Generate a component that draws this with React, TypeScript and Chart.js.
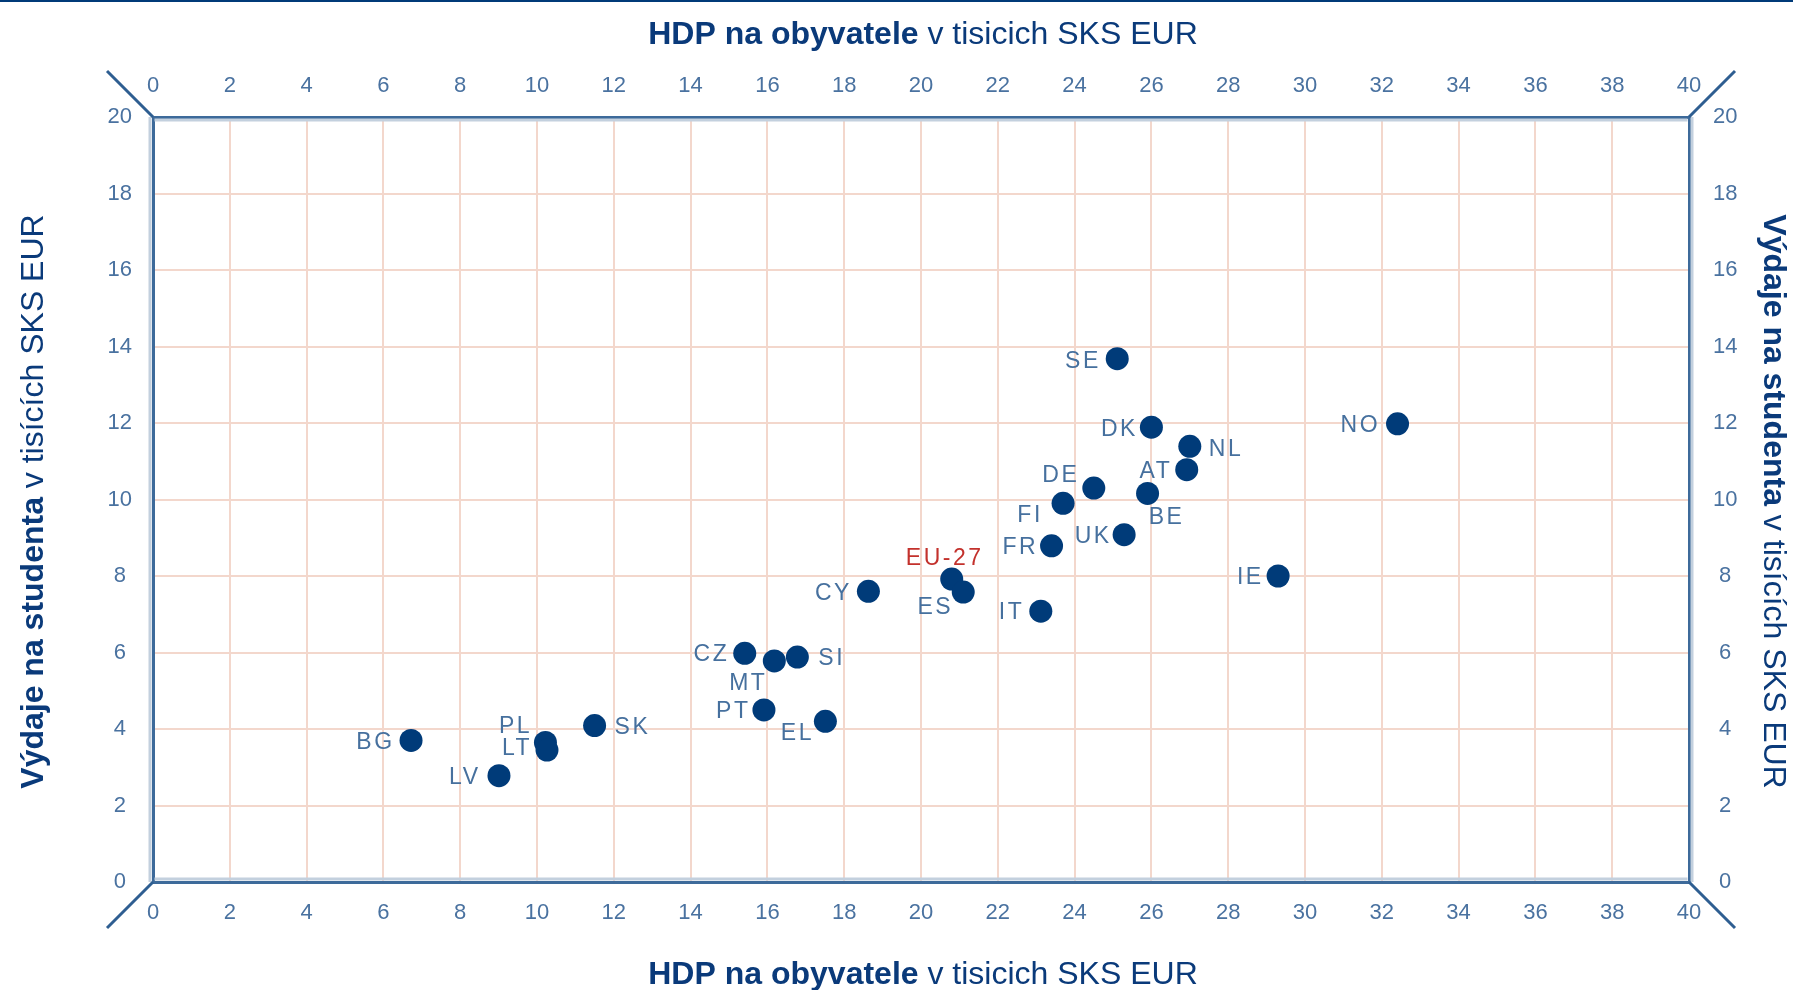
import { useEffect, useRef } from 'react';
import { Chart, registerables } from 'chart.js';

Chart.register(...registerables);

// ---- data ----
const countries = ['BG', 'LV', 'PL', 'LT', 'SK', 'CZ', 'MT', 'SI', 'PT', 'EL', 'CY', 'EU-27', 'ES', 'IT', 'FR', 'FI', 'DE', 'UK', 'SE', 'DK', 'BE', 'AT', 'NL', 'IE', 'NO'];
const gdpPerCapita = [6.72, 9.01, 10.22, 10.26, 11.5, 15.41, 16.18, 16.78, 15.91, 17.51, 18.63, 20.8, 21.1, 23.12, 23.4, 23.7, 24.5, 25.29, 25.11, 26.0, 25.9, 26.92, 27.0, 29.3, 32.41];
const spendingPerStudent = [3.7, 2.78, 3.65, 3.45, 4.09, 5.98, 5.78, 5.88, 4.5, 4.2, 7.6, 7.92, 7.58, 7.08, 8.79, 9.9, 10.3, 9.08, 13.68, 11.89, 10.16, 10.78, 11.39, 8.0, 11.98];
const highlighted = ['EU-27'];
const axisMin = 0;
const xAxisMax = 40;
const yAxisMax = 20;
const tickStep = 2;

const xTitleBold = 'HDP na obyvatele ';
const xTitleRest = 'v tisicich SKS EUR';
const yTitleBold = 'Výdaje na studenta ';
const yTitleRest = 'v tisících SKS EUR';

// ---- label placement (offset from point centre, alignment) ----
const labelPlacement: Record<string, [number, number, CanvasTextAlign]> = {
  SE: [-19, 1, 'right'],
  DK: [-16, 1, 'right'],
  NL: [19, 1, 'left'],
  AT: [-17, 0, 'right'],
  DE: [-33, -14, 'center'],
  FI: [-33, 10, 'center'],
  BE: [19, 22, 'center'],
  UK: [-15, 0, 'right'],
  FR: [-16, 0, 'right'],
  IE: [-17, 0, 'right'],
  NO: [-20, 0, 'right'],
  IT: [-19, 0, 'right'],
  'EU-27': [-7, -22, 'center'],
  ES: [-28, 14, 'center'],
  CY: [-19, 0, 'right'],
  CZ: [-18, 0, 'right'],
  MT: [-26, 21, 'center'],
  SI: [21, 0, 'left'],
  PT: [-16, 0, 'right'],
  EL: [-28, 10, 'center'],
  SK: [20, 0, 'left'],
  PL: [-30, -18, 'center'],
  LT: [-30, -3, 'center'],
  BG: [-19, 0, 'right'],
  LV: [-21, 0, 'right'],
};

const W = 1793;
const H = 990;
const FONT = '"Liberation Sans", Arial, sans-serif';
const NAVY = '#003b79';
const AXIS = '#3d6a9a';
const AXIS_LIGHT = '#c3d0de';
const GRID = '#f3d7cc';
const TICK = '#4a72a0';
const LABEL = '#46709e';
const RED = '#c3312c';
const TITLE = '#0a3a7a';

function drawMixed(ctx: CanvasRenderingContext2D, cx: number, cy: number, angle: number, bold: string, rest: string, size: number) {
  ctx.save();
  ctx.translate(cx, cy);
  ctx.rotate(angle);
  const fb = `bold ${size}px ${FONT}`;
  const fr = `${size}px ${FONT}`;
  ctx.font = fb;
  const wb = ctx.measureText(bold).width;
  ctx.font = fr;
  const wr = ctx.measureText(rest).width;
  const total = wb + wr;
  const base = size * 0.716 / 2;
  ctx.fillStyle = TITLE;
  ctx.textAlign = 'left';
  ctx.textBaseline = 'alphabetic';
  ctx.font = fb;
  ctx.fillText(bold, -total / 2, base);
  ctx.font = fr;
  ctx.fillText(rest, -total / 2 + wb, base);
  ctx.restore();
}

const decorPlugin = {
  id: 'decor',
  afterDraw(chart: any) {
    const { ctx, chartArea: a } = chart;
    ctx.save();
    // top rule
    ctx.fillStyle = '#003a78';
    ctx.fillRect(0, 0, W, 2);
    // light companion lines of the frame
    ctx.fillStyle = AXIS_LIGHT;
    ctx.fillRect(a.left + 1.5, a.top + 1.5, a.right - a.left - 3, 3);
    ctx.fillRect(a.left + 1.5, a.bottom - 4.5, a.right - a.left - 3, 3);
    ctx.fillRect(a.left - 4.5, a.top, 3, a.bottom - a.top);
    ctx.fillRect(a.right + 1.5, a.top, 3, a.bottom - a.top);
    // corner diagonals
    ctx.strokeStyle = '#2e5e91';
    ctx.lineWidth = 3;
    const d = 46;
    const seg = (x: number, y: number, dx: number, dy: number) => {
      ctx.beginPath();
      ctx.moveTo(x, y);
      ctx.lineTo(x + dx, y + dy);
      ctx.stroke();
    };
    seg(a.left, a.top, -d, -d);
    seg(a.right, a.top, d, -d);
    seg(a.left, a.bottom, -d, d);
    seg(a.right, a.bottom, d, d);
    // titles
    const cx = (a.left + a.right) / 2 + 2;
    const cy = (a.top + a.bottom) / 2 + 2;
    drawMixed(ctx, cx, 33, 0, xTitleBold, xTitleRest, 32);
    drawMixed(ctx, cx, 973, 0, xTitleBold, xTitleRest, 32);
    drawMixed(ctx, 32, cy, -Math.PI / 2, yTitleBold, yTitleRest, 32);
    drawMixed(ctx, 1775, cy, Math.PI / 2, yTitleBold, yTitleRest, 32);
    ctx.restore();
  },
  afterDatasetsDraw(chart: any) {
    const { ctx } = chart;
    const meta = chart.getDatasetMeta(0);
    ctx.save();
    ctx.font = `23px ${FONT}`;
    (ctx as any).letterSpacing = '2.5px';
    ctx.textBaseline = 'alphabetic';
    meta.data.forEach((pt: any, i: number) => {
      const code = countries[i];
      const p = labelPlacement[code] || [-18, 0, 'right'];
      ctx.fillStyle = highlighted.includes(code) ? RED : LABEL;
      ctx.textAlign = p[2];
      const shift = p[2] === 'right' ? 2.5 : 0;
      ctx.fillText(code, pt.x + p[0] + shift, pt.y + p[1] + 23 * 0.716 / 2);
    });
    ctx.restore();
  },
};

function tickOpts(padding: number, extra: any = {}) {
  return {
    stepSize: tickStep,
    padding,
    color: TICK,
    autoSkip: false,
    maxRotation: 0,
    font: { family: FONT, size: 22 },
    ...extra,
  };
}

export default function App() {
  const ref = useRef<HTMLCanvasElement>(null);
  useEffect(() => {
    if (!ref.current) return;
    const points = gdpPerCapita.map((x, i) => ({ x, y: spendingPerStudent[i] }));
    const border = { display: true, color: AXIS, width: 3 };
    const chart = new Chart(ref.current, {
      type: 'scatter',
      data: {
        datasets: [
          {
            label: 'countries',
            data: points,
            backgroundColor: NAVY,
            borderWidth: 0,
            pointRadius: 11.5,
            pointHoverRadius: 11.5,
          },
        ],
      },
      options: {
        responsive: false,
        animation: false,
        events: [],
        layout: { padding: 0 },
        plugins: { legend: { display: false }, tooltip: { enabled: false }, title: { display: false } },
        scales: {
          x: {
            type: 'linear',
            position: 'bottom',
            min: axisMin,
            max: xAxisMax,
            ticks: tickOpts(18),
            grid: { color: GRID, lineWidth: 2, drawTicks: false },
            border,
            afterFit: (s: any) => { s.height = 108; },
          },
          x2: {
            type: 'linear',
            position: 'top',
            min: axisMin,
            max: xAxisMax,
            ticks: tickOpts(18),
            grid: { display: false, drawTicks: false },
            border,
            afterFit: (s: any) => { s.height = 117; },
          },
          y: {
            type: 'linear',
            position: 'left',
            min: axisMin,
            max: yAxisMax,
            ticks: tickOpts(21, { crossAlign: 'center' }),
            grid: { color: GRID, lineWidth: 2, drawTicks: false },
            border,
            afterFit: (s: any) => { s.width = 153; },
          },
          y2: {
            type: 'linear',
            position: 'right',
            min: axisMin,
            max: yAxisMax,
            ticks: tickOpts(24, { crossAlign: 'center' }),
            grid: { display: false, drawTicks: false },
            border,
            afterFit: (s: any) => { s.width = 104; },
          },
        },
      } as any,
      plugins: [decorPlugin],
    });
    return () => chart.destroy();
  }, []);
  return (
    <div style={{ position: 'absolute', left: 0, top: 0, width: W, height: H, background: '#fff' }}>
      <canvas ref={ref} width={W} height={H} style={{ display: 'block', width: W, height: H }} />
    </div>
  );
}
